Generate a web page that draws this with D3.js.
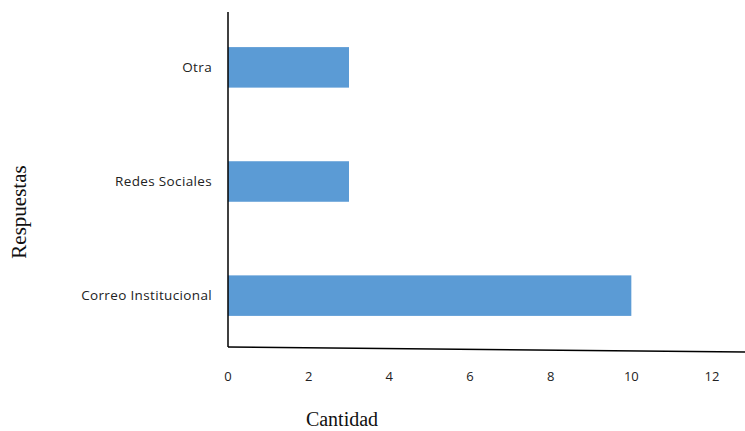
<!DOCTYPE html>
<html>
<head>
<meta charset="utf-8">
<script src="https://cdn.jsdelivr.net/npm/d3@7"></script>
<style>
  html, body { margin: 0; padding: 0; background: #fff; }
  svg { display: block; }
</style>
</head>
<body>
<svg id="chart" width="745" height="431"></svg>
<script>
// Responses, listed top to bottom
const categories = ["Otra", "Redes Sociales", "Correo Institucional"];
const values = [3, 3, 10];
const xTicks = [0, 2, 4, 6, 8, 10, 12];

const svg = d3.select("#chart");
const W = 745, H = 431;

const x = d3.scaleLinear().domain([0, 12]).range([228, 712]);
const y = d3.scaleBand().domain(categories).range([14, 349])
  .paddingInner(0.645).paddingOuter(0.29);

const labelFont = "'Open Sans', Lato, sans-serif";
const titleFont = "'Liberation Serif', 'DejaVu Serif', serif";

// Bars
svg.selectAll("rect.bar")
  .data(categories.map((c, i) => ({ c, v: values[i] })))
  .enter().append("rect")
  .attr("class", "bar")
  .attr("x", x(0))
  .attr("y", d => y(d.c))
  .attr("width", d => x(d.v) - x(0))
  .attr("height", y.bandwidth())
  .attr("fill", "#5b9bd5");

// Vertical axis line
svg.append("line")
  .attr("x1", x(0)).attr("x2", x(0))
  .attr("y1", 12).attr("y2", 347)
  .attr("stroke", "#000").attr("stroke-width", 1.5);

// Horizontal baseline (slightly tilted, running to the edge)
svg.append("line")
  .attr("x1", x(0)).attr("y1", 347)
  .attr("x2", W).attr("y2", 352)
  .attr("stroke", "#000").attr("stroke-width", 1.5);

// Category labels
svg.selectAll("text.cat")
  .data(categories)
  .enter().append("text")
  .attr("class", "cat")
  .attr("x", 212)
  .attr("y", d => y(d) + y.bandwidth() / 2)
  .attr("dy", "0.35em")
  .attr("text-anchor", "end")
  .attr("font-family", labelFont)
  .attr("font-size", 13.5)
  .attr("letter-spacing", "0.35px")
  .attr("fill", "#222")
  .text(d => d);

// X tick labels
svg.selectAll("text.tick")
  .data(xTicks)
  .enter().append("text")
  .attr("class", "tick")
  .attr("x", d => x(d))
  .attr("y", 376)
  .attr("dy", "0.35em")
  .attr("text-anchor", "middle")
  .attr("font-family", labelFont)
  .attr("font-size", 13)
  .attr("fill", "#222")
  .text(d => d);

// Axis titles
svg.append("text")
  .attr("x", 342).attr("y", 426)
  .attr("text-anchor", "middle")
  .attr("font-family", titleFont)
  .attr("font-size", 20)
  .attr("fill", "#111")
  .text("Cantidad");

svg.append("text")
  .attr("transform", "translate(26,212) rotate(-90)")
  .attr("text-anchor", "middle")
  .attr("font-family", titleFont)
  .attr("font-size", 21)
  .attr("fill", "#111")
  .text("Respuestas");
</script>
</body>
</html>
